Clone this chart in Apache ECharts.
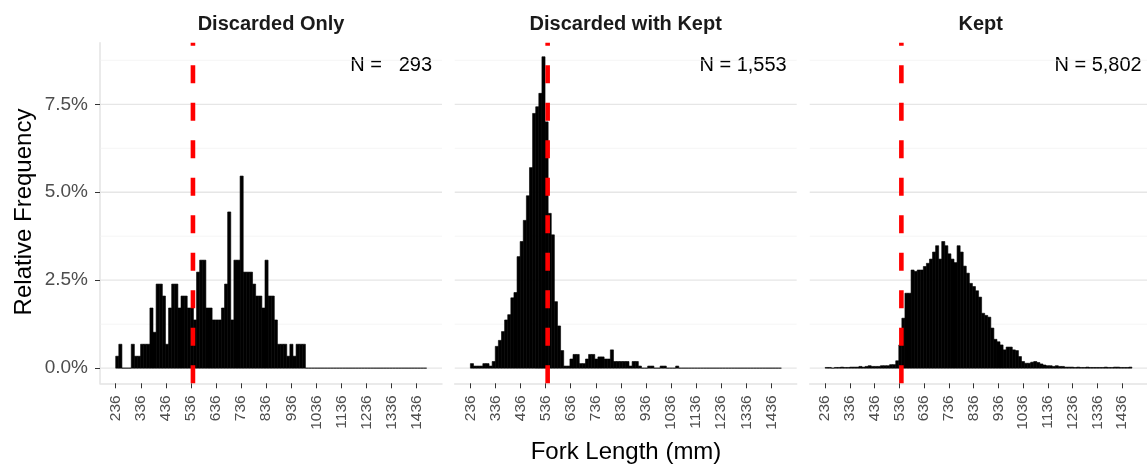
<!DOCTYPE html>
<html><head><meta charset="utf-8">
<script src="https://cdn.jsdelivr.net/npm/echarts@6/dist/echarts.min.js"></script>
<style>html,body{margin:0;padding:0;background:#fff}#c{width:1147px;height:466px}</style>
</head><body><div id="c"></div>
<script>
// ---- data ----
const panelTitles = ['Discarded Only', 'Discarded with Kept', 'Kept'];
const nLabels = ['N =   293', 'N = 1,553', 'N = 5,802'];
const binStart = 236;      // left edge of first bin (mm)
const binWidth = 12.4;     // bin width (mm)
const sizeLimit = 544;     // red dashed reference line (mm)

// relative frequency (%) per bin
const discardedOnly = [
  0.34,0.68,0,0,0,0.68,0.34,0.34,0.68,0.68,
  0.68,1.71,1.02,2.39,2.39,2.05,0.68,1.71,2.39,2.39,
  1.71,2.05,2.05,1.71,1.71,1.37,2.73,3.07,3.07,1.71,
  1.71,1.37,1.37,1.37,1.71,2.39,4.44,1.37,3.07,3.07,
  5.46,2.73,2.73,2.73,2.39,2.05,2.05,1.71,3.07,2.05,
  2.05,1.37,0.68,0.68,0.68,0.34,0.68,0.34,0.68,0.68,
  0.68,0,0,0,0,0,0,0,0,0,
  0,0,0,0,0,0,0,0,0,0,
  0,0,0,0,0,0,0,0,0,0,
  0,0,0,0,0,0,0,0,0,0
];
const discardedWithKept = [
  0.13,0.06,0.06,0.06,0.13,0.13,0.06,0.19,0.62,0.79,
  1.04,1.37,1.52,2.0,2.15,3.17,3.6,4.2,4.9,5.7,
  7.24,7.43,7.81,8.85,7.0,4.4,3.79,1.89,1.2,0.5,
  0.06,0.06,0.26,0.39,0.39,0.13,0.13,0.26,0.39,0.39,
  0.26,0.32,0.32,0.26,0.26,0.52,0.19,0.19,0.19,0.19,
  0.19,0.06,0.19,0.19,0.06,0,0,0.06,0.06,0,
  0,0.06,0.06,0,0,0,0.06,0,0,0,
  0,0,0,0,0,0,0,0,0,0,
  0,0,0,0,0,0,0,0,0,0,
  0,0,0,0,0,0,0,0,0,0
];
const kept = [
  0.02,0.02,0,0.02,0.02,0.03,0.02,0.02,0.03,0.03,
  0.03,0.05,0.03,0.05,0.07,0.05,0.05,0.05,0.07,0.07,
  0.07,0.1,0.1,0.21,0.66,1.42,2.13,2.13,2.79,2.75,
  2.79,2.79,2.89,2.98,3.10,3.3,3.48,3.10,3.6,3.48,
  3.25,3.1,3.0,3.48,3.3,2.9,2.7,2.41,2.32,2.2,
  2.02,1.56,1.5,1.45,1.14,0.82,0.75,0.66,0.52,0.6,
  0.6,0.52,0.5,0.33,0.19,0.14,0.14,0.17,0.19,0.16,
  0.12,0.09,0.07,0.07,0.05,0.07,0.05,0.05,0.03,0.03,
  0.03,0.02,0.03,0.02,0.02,0.03,0.02,0.02,0.02,0.02,
  0.02,0.03,0.02,0.02,0.03,0.03,0.02,0.02,0.02,0.03
];
const xTicks = [236,336,436,536,636,736,836,936,1036,1136,1236,1336,1436];
const yTicks = [0, 2.5, 5, 7.5];
const yMinor = [1.25, 3.75, 6.25, 8.75];

// ---- layout ----
const FONT = '"Liberation Sans", Arial, sans-serif';
const gridLefts = [100, 454.7, 809.7];
const gridW = 342, gridTop = 42.7, gridH = 340.6;
const xMin = 173.4, xMax = 1537;
const yMin = -0.43, yMax = 9.25;
const panelData = [discardedOnly, discardedWithKept, kept];

const grids = [], xAxes = [], yAxes = [], series = [], graphics = [];
panelData.forEach((vals, i) => {
  grids.push({left: gridLefts[i], top: gridTop, width: gridW, height: gridH, containLabel: false});
  xAxes.push({
    gridIndex: i, type: 'value', min: xMin, max: xMax,
    axisLine: {show: true, onZero: false, lineStyle: {color: '#e3e3e3', width: 1.5}},
    axisTick: {show: true, customValues: xTicks, length: 5, lineStyle: {color: '#333333', width: 1}},
    axisLabel: {show: true, customValues: xTicks, rotate: 90, formatter: v => String(v), color: '#4d4d4d', fontSize: 15.5, fontFamily: FONT, margin: 12, hideOverlap: false},
    splitLine: {show: false}
  });
  yAxes.push({
    gridIndex: i, type: 'value', min: yMin, max: yMax,
    axisLine: {show: i === 0, onZero: false, lineStyle: {color: '#e3e3e3', width: 1.5}},
    axisTick: {show: i === 0, customValues: yTicks, length: 5, lineStyle: {color: '#333333', width: 1}},
    axisLabel: {show: i === 0, customValues: yTicks, formatter: v => v.toFixed(1) + '%', color: '#4d4d4d', fontSize: 19, fontFamily: FONT, margin: 12},
    splitLine: {show: false}
  });
  // gridlines
  const gl = yTicks.map(v => [xMin, v, 1]).concat(yMinor.map(v => [xMin, v, 0]));
  series.push({
    type: 'custom', xAxisIndex: i, yAxisIndex: i, silent: true, z: 1,
    data: gl, encode: {x: 0, y: 1},
    renderItem: (params, api) => {
      const cs = params.coordSys;
      const py = api.coord([api.value(0), api.value(1)])[1];
      const major = api.value(2) === 1;
      return {type: 'line', shape: {x1: cs.x, y1: py, x2: cs.x + cs.width, y2: py},
        style: {stroke: major ? '#e6e6e6' : '#f0f0f0', lineWidth: major ? 1.3 : 0.7}};
    }
  });
  // histogram bars
  const bars = vals.map((v, j) => [binStart + j * binWidth, binStart + (j + 1) * binWidth, v]);
  series.push({
    type: 'custom', xAxisIndex: i, yAxisIndex: i, silent: true, z: 3,
    data: bars, encode: {x: [0, 1], y: 2},
    renderItem: (params, api) => {
      const p0 = api.coord([api.value(0), api.value(2)]);
      const p1 = api.coord([api.value(1), 0]);
      return {type: 'rect', shape: {x: p0[0], y: p0[1], width: p1[0] - p0[0], height: p1[1] - p0[1]},
        style: {fill: '#000000', stroke: '#000000', lineWidth: 0.6}};
    }
  });
  // red dashed reference line
  series.push({
    type: 'line', xAxisIndex: i, yAxisIndex: i, silent: true, z: 5,
    data: [[sizeLimit, yMin], [sizeLimit, yMax]], symbol: 'none', animation: false,
    lineStyle: {color: '#ff0000', width: 4.6, type: [18, 19.5], cap: 'butt'}
  });
  const cx = gridLefts[i] + gridW / 2;
  graphics.push({type: 'text', x: cx, y: 24.5, style: {text: panelTitles[i], fontFamily: FONT, fontSize: 20, fontWeight: 'bold', fill: '#1a1a1a', align: 'center', verticalAlign: 'middle'}});
  graphics.push({type: 'text', x: gridLefts[i] + gridW - 10, y: 65.5, style: {text: nLabels[i], fontFamily: FONT, fontSize: 20, fill: '#000000', align: 'right', verticalAlign: 'middle'}});
});
graphics.push({type: 'text', x: 626, y: 452, style: {text: 'Fork Length (mm)', fontFamily: FONT, fontSize: 24, fill: '#000000', align: 'center', verticalAlign: 'middle'}});
graphics.push({type: 'text', x: 24, y: 212, rotation: Math.PI / 2, style: {text: 'Relative Frequency', fontFamily: FONT, fontSize: 24, fill: '#000000', align: 'center', verticalAlign: 'middle'}});

const chart = echarts.init(document.getElementById('c'), null, {renderer: 'canvas'});
chart.setOption({
  animation: false, backgroundColor: '#ffffff',
  grid: grids, xAxis: xAxes, yAxis: yAxes, series: series, graphic: graphics
});
</script></body></html>
